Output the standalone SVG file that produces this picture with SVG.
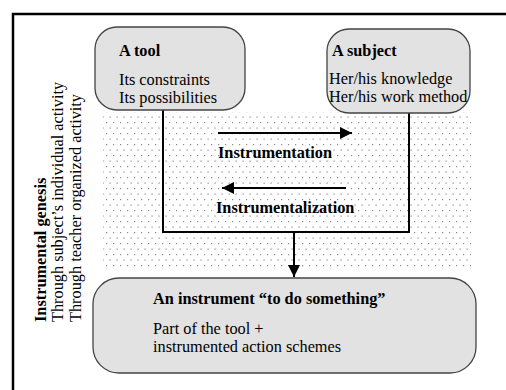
<svg xmlns="http://www.w3.org/2000/svg" width="506" height="390" viewBox="0 0 506 390">
<style>
text{font-family:"Liberation Serif","Times New Roman",serif;font-size:16.3px;fill:#000}
.b{font-weight:bold}
.box{fill:#e2e2e2;stroke:#444;stroke-width:1.3}
.ln{stroke:#000;stroke-width:2;fill:none}
</style>
<defs>
<pattern id="dots" width="7" height="11" patternUnits="userSpaceOnUse">
<rect x="1" y="1" width="1.2" height="1.2" fill="#8a8a8a"/>
<rect x="4.5" y="6.5" width="1.2" height="1.2" fill="#8a8a8a"/>
</pattern>
<marker id="ah" viewBox="0 0 10 10" refX="10" refY="5" markerWidth="16" markerHeight="12" markerUnits="userSpaceOnUse" orient="auto">
<path d="M0,0 L10,5 L0,10 Z" fill="#000"/>
</marker>
</defs>
<rect width="506" height="390" fill="#fff"/>
<path d="M13,390 V14 H506" fill="none" stroke="#000" stroke-width="2.5"/>
<rect x="103" y="112" width="368" height="158" fill="url(#dots)"/>
<g id="label-genesis">
<text class="b" transform="translate(46,322) rotate(-90)">Instrumental genesis</text>
<text transform="translate(63,322) rotate(-90)">Through subject’s individual activity</text>
<text transform="translate(81,322) rotate(-90)">Through teacher organized activity</text>
</g>
<g id="connectors">
<path class="ln" d="M163,110 V232 H409 V113"/>
<line class="ln" x1="294" y1="232" x2="294" y2="277" marker-end="url(#ah)"/>
<line class="ln" x1="218" y1="133" x2="352" y2="133" marker-end="url(#ah)"/>
<line class="ln" x1="346" y1="188" x2="222" y2="188" marker-end="url(#ah)"/>
<text class="b" x="218" y="158">Instrumentation</text>
<text class="b" x="216" y="213">Instrumentalization</text>
</g>
<g id="tool">
<rect class="box" x="95" y="27" width="150" height="83" rx="22"/>
<text class="b" x="119" y="56">A tool</text>
<text x="119" y="85">Its constraints</text>
<text x="119" y="103">Its possibilities</text>
</g>
<g id="subject">
<rect class="box" x="327" y="29" width="143" height="84" rx="22"/>
<text class="b" x="332" y="56">A subject</text>
<text x="329" y="84">Her/his knowledge</text>
<text x="329" y="102">Her/his work method</text>
</g>
<g id="instrument">
<rect class="box" x="93" y="278" width="383" height="95" rx="26"/>
<text class="b" x="153" y="304">An instrument “to do something”</text>
<text x="153" y="334">Part of the tool +</text>
<text x="153" y="352">instrumented action schemes</text>
</g>
</svg>
